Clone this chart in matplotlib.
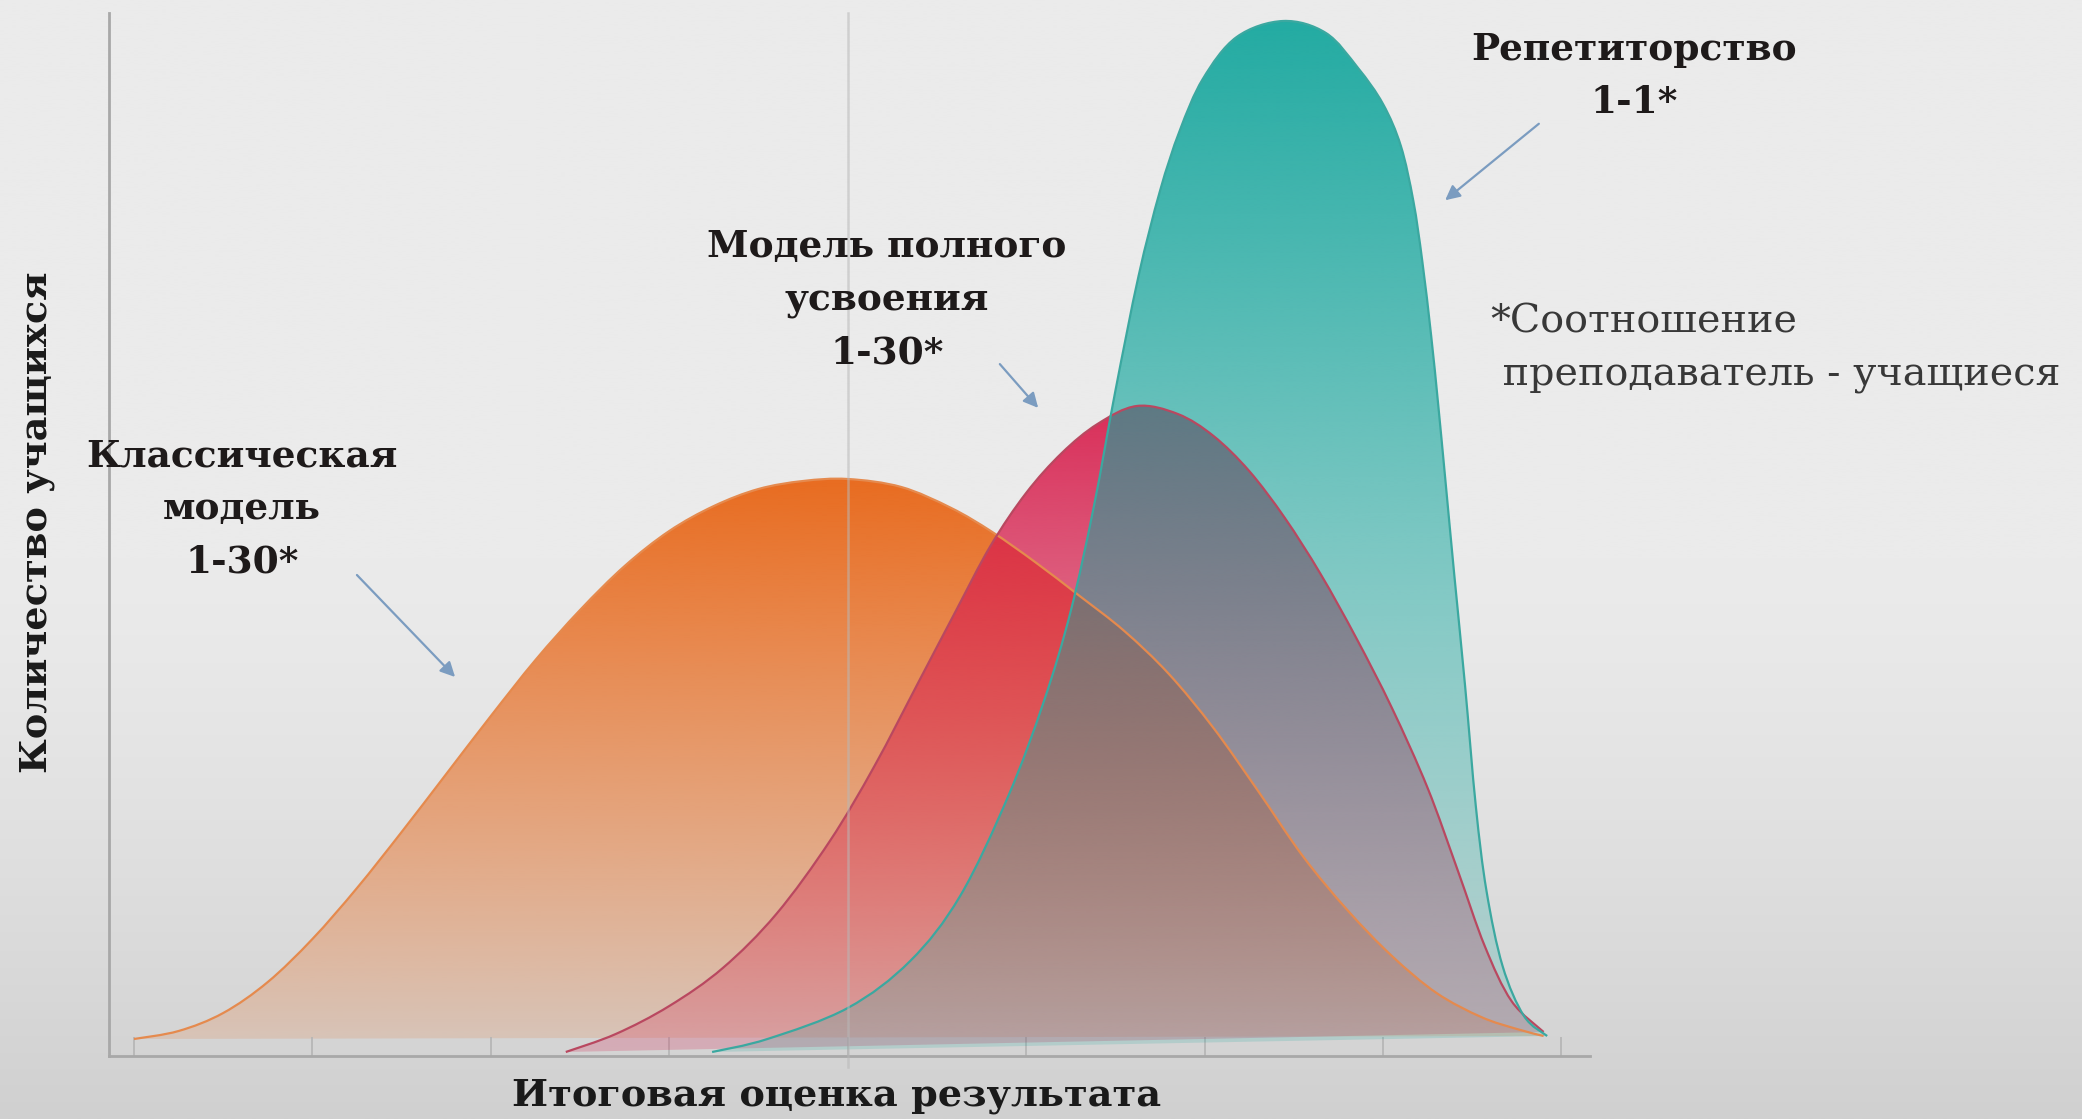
import numpy as np
import matplotlib
matplotlib.use("Agg")
import matplotlib.pyplot as plt
from matplotlib.path import Path
from matplotlib.patches import PathPatch, FancyArrowPatch
from matplotlib.colors import to_rgb

# ------------------------------------------------------------------
# Data: x = final score, y = number of students
# ------------------------------------------------------------------

classic_x = [0.00, 0.25, 0.50, 0.75, 1.00, 1.25, 1.50, 1.75, 2.00, 2.25, 2.50, 2.75,
             3.00, 3.25, 3.50, 3.75, 4.00, 4.30, 4.58, 4.81, 5.05, 5.30, 5.55, 5.80,
             6.05, 6.30, 6.55, 6.80, 7.05, 7.30, 7.55, 7.75, 7.90]
classic_y = [1.7, 2.5, 4.3, 7.4, 11.7, 16.8, 22.4, 28.2, 34.0, 39.6, 44.6, 49.0,
             52.5, 55.0, 56.7, 57.5, 57.7, 56.9, 54.8, 52.4, 49.4, 46.0, 42.5, 38.2,
             32.8, 26.5, 20.0, 14.6, 10.0, 6.3, 3.9, 2.7, 2.0]

mastery_x = [2.42, 2.70, 3.00, 3.30, 3.60, 3.90, 4.15, 4.40, 4.60, 4.80, 5.00, 5.20,
             5.40, 5.62, 5.85, 6.05, 6.25, 6.45, 6.65, 6.85, 7.05, 7.25, 7.42, 7.57,
             7.72, 7.90]
mastery_y = [0.4, 2.2, 5.0, 8.8, 14.2, 21.5, 29.0, 37.5, 44.3, 51.0, 56.3, 60.3,
             63.2, 65.0, 64.2, 62.0, 58.5, 53.8, 48.2, 41.8, 34.8, 26.8, 18.5, 11.0,
             5.5, 2.4]

tutor_x = [3.24, 3.55, 4.00, 4.35, 4.63, 4.90, 5.10, 5.25, 5.38, 5.50, 5.63, 5.75,
           5.86, 5.99, 6.18, 6.44, 6.68, 6.86, 7.00, 7.10, 7.17, 7.22, 7.27, 7.31,
           7.35, 7.40, 7.46, 7.52, 7.58, 7.67, 7.79, 7.92]
tutor_y = [0.4, 1.7, 4.8, 9.5, 16.0, 26.0, 35.5, 44.5, 55.0, 66.5, 78.0, 86.5,
           92.5, 97.7, 101.9, 103.5, 102.3, 98.8, 95.2, 91.0, 85.5, 79.5, 72.0, 65.0,
           57.5, 48.0, 37.0, 25.0, 16.5, 9.0, 4.0, 2.0]

x_ticks = [0, 1, 2, 3, 4, 5, 6, 7, 8]

W, H = 2082, 1119
DPI = 100


def smooth_path(xs, ys, close=False):
    """Catmull-Rom through the read points, as cubic Bezier segments."""
    P = np.column_stack([xs, ys]).astype(float)
    n = len(P)
    verts = [P[0]]
    codes = [Path.MOVETO]
    for i in range(n - 1):
        p0 = P[i - 1] if i > 0 else P[i]
        p1, p2 = P[i], P[i + 1]
        p3 = P[i + 2] if i + 2 < n else P[i + 1]
        verts += [p1 + (p2 - p0) / 6, p2 - (p3 - p1) / 6, p2]
        codes += [Path.CURVE4] * 3
    if close:
        verts += [P[0], P[0]]
        codes += [Path.LINETO, Path.CLOSEPOLY]
    return Path(verts, codes)


def gradient_area(ax, xs, ys, color, a_top, a_bot, power, line_color, z):
    rgb = to_rgb(color)
    t = np.linspace(0, 1, 256)
    img = np.zeros((256, 1, 4))
    img[:, 0, :3] = rgb
    img[:, 0, 3] = a_bot + (a_top - a_bot) * t ** power
    im = ax.imshow(img, extent=[min(xs), max(xs), 0, max(ys)], origin="lower",
                   aspect="auto", interpolation="bilinear", zorder=z)
    patch = PathPatch(smooth_path(xs, ys, close=True), facecolor="none",
                      edgecolor="none", transform=ax.transData)
    ax.add_patch(patch)
    im.set_clip_path(patch)
    ax.add_patch(PathPatch(smooth_path(xs, ys), facecolor="none",
                           edgecolor=line_color, lw=1.6, zorder=z + 5))


fig = plt.figure(figsize=(W / DPI, H / DPI), dpi=DPI)

# slide background: light grey, a bit darker towards the bottom
bg = fig.add_axes([0, 0, 1, 1], zorder=-10)
g = np.linspace(0, 1, 400)
shade = 235 - 27 * np.clip((g - 0.5) / 0.5, 0, 1) ** 1.3
bg.imshow(np.repeat(shade[:, None], 2, axis=1)[:, :, None].repeat(3, axis=2) / 255.0,
          extent=[0, 1, 0, 1], aspect="auto")
bg.set_axis_off()

ax = fig.add_axes([109 / W, (H - 1056) / H, (1590 - 109) / W, (1056 - 13) / H])
ax.set_facecolor("none")
ax.set_xlim(-0.14, 8.16)
ax.set_ylim(0, 104.3)

gradient_area(ax, classic_x, classic_y, "#E8681A", 0.97, 0.12, 0.9, "#E58A4E", 1)
gradient_area(ax, mastery_x, mastery_y, "#D8204E", 0.93, 0.22, 1.2, "#B94860", 2)
gradient_area(ax, tutor_x, tutor_y, "#16A79E", 0.94, 0.17, 1.1, "#3BA8A0", 3)

# axes
for s in ["top", "right"]:
    ax.spines[s].set_visible(False)
for s in ["left", "bottom"]:
    ax.spines[s].set_color("#A8A8A8")
    ax.spines[s].set_linewidth(2)
ax.set_xticks(x_ticks)
ax.set_xticklabels([])
ax.set_yticks([])
ax.tick_params(axis="x", direction="in", length=14, width=1.2, color="#B4B4B4")
ax.axvline(4, ymin=-0.011, ymax=1, color="#B8B8B8", lw=1.8, alpha=0.55,
           zorder=20, clip_on=False)

serif = ["DejaVu Serif"]
ax.set_xlabel("Итоговая оценка результата", fontsize=27.5, fontweight="bold",
              family=serif, color="#1A1A1A", va="center")
ax.xaxis.set_label_coords((837 - 109) / (1590 - 109), -(1096 - 1056) / (1056 - 13))
ax.set_ylabel("Количество учащихся", fontsize=27.5, fontweight="bold",
              family=serif, color="#1A1A1A", va="center")
ax.yaxis.set_label_coords(-(109 - 37) / (1590 - 109), (1056 - 522) / (1056 - 13))

lbl = dict(fontsize=27, fontweight="bold", family=serif, color="#1E1A1A",
           ha="center", va="center", linespacing=1.55)
fig.text(242 / W, 1 - 509 / H, "Классическая\nмодель\n1-30*", **lbl)
fig.text(887 / W, 1 - 300 / H, "Модель полного\nусвоения\n1-30*", **lbl)
fig.text(1634 / W, 1 - 76 / H, "Репетиторство\n1-1*", **lbl)
fig.text(1490 / W, 1 - 349 / H, "*Соотношение\n преподаватель - учащиеся",
         fontsize=28.5, family=serif, color="#383838", ha="left", va="center",
         linespacing=1.55)

arrow = dict(arrowstyle="-|>", color="#7B9CC0", lw=1.6, mutation_scale=22)
for (x0, y0), (x1, y1) in [((355, 573), (457, 679)),
                           ((998, 362), (1040, 410)),
                           ((1541, 122), (1443, 202))]:
    fig.add_artist(FancyArrowPatch((x0 / W, 1 - y0 / H), (x1 / W, 1 - y1 / H),
                                   transform=fig.transFigure, **arrow))

fig.savefig("out.png", dpi=DPI)
